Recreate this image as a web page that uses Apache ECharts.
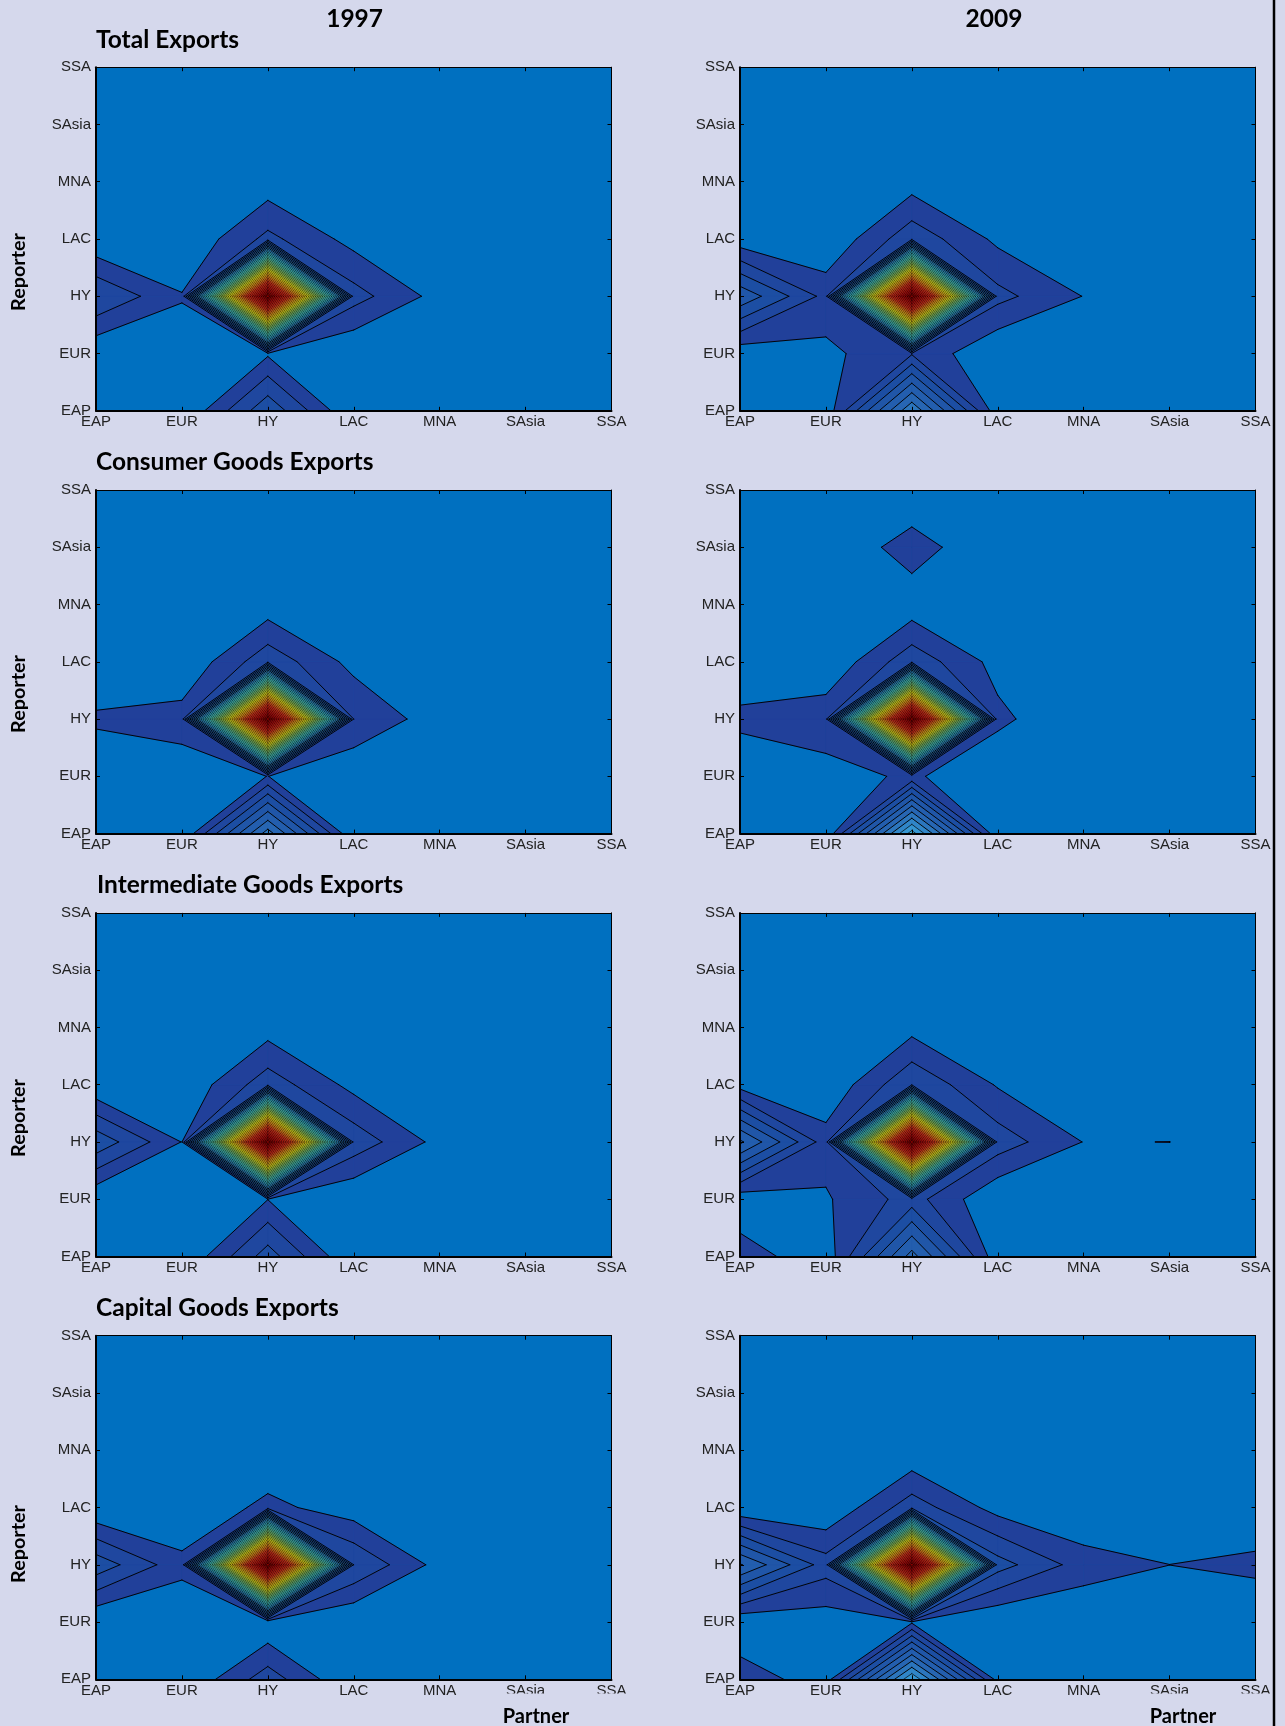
<!DOCTYPE html>
<html>
<head>
<meta charset="utf-8">
<style>html,body{margin:0;padding:0;background:#d5d8ec}#c{width:1285px;height:1726px}</style>
<script src="https://cdn.jsdelivr.net/npm/echarts@6/dist/echarts.min.js"></script>
</head>
<body>
<div id="c"></div>
<script>
// Axis categories: partner on x, reporter on y. Matrices: rows EAP..SSA (bottom to top), columns EAP..SSA.
var categories = ['EAP','EUR','HY','LAC','MNA','SAsia','SSA'];
var years = ['1997','2009'];
var sections = ['Total Exports','Consumer Goods Exports','Intermediate Goods Exports','Capital Goods Exports'];

var total1997 = [
 [0,0,3.77,0,0,0,0],
 [.1,.47,.85,.01,0,0,0],
 [3.0,1.07,40,2.42,.62,0,0],
 [.1,.03,2.29,.62,0,0,0],
 [0,0,.38,0,0,0,0],
 [0,0,0,0,0,0,0],
 [0,0,0,0,0,0,0]];
var total2009 = [
 [0,.3,7.9,.3,0,0,0],
 [.3,.73,1.88,.04,0,0,0],
 [4.77,1.66,40,2.32,.97,0,0],
 [.34,.07,2.7,.76,0,0,0],
 [0,0,.5,0,0,0,0],
 [0,0,0,0,0,0,0],
 [0,0,0,0,0,0,0]];
var consumer1997 = [
 [0,0,7.5,0,0,0,0],
 [.14,.43,1.01,0,0,0,0],
 [1.18,1.45,40,2,.39,0,0],
 [0,.08,2.7,.65,0,0,0],
 [0,0,.39,0,0,0,0],
 [0,0,0,0,0,0,0],
 [0,0,0,0,0,0,0]];
var consumer2009 = [
 [0,.1,10.5,.1,0,0,0],
 [0,.54,1.19,0,0,0,0],
 [1.32,1.69,40,1.27,0,0,0],
 [0,.08,2.7,.62,0,0,0],
 [0,0,.35,0,0,0,0],
 [0,0,1.55,0,0,0,0],
 [0,0,0,0,0,0,0]];
var intermediate1997 = [
 [0,0,3.5,0,0,0,0],
 [.09,.4,.98,.03,0,0,0],
 [3.73,.97,40,2.66,.66,0,0],
 [.09,.14,2.6,.66,0,0,0],
 [0,0,.52,0,0,0,0],
 [0,0,0,0,0,0,0],
 [0,0,0,0,0,0,0]];
var intermediate2009 = [
 [1.5,.33,6.43,.3,0,0,0],
 [.28,.88,2.43,.05,0,0,0],
 [6.2,1.45,40,2.56,.97,1.006,0],
 [.57,.12,2.9,.9,0,0,0],
 [0,0,.63,0,0,0,0],
 [0,0,0,0,0,0,0],
 [0,0,0,0,0,0,0]];
var capital1997 = [
 [0,0,2.55,0,0,0,0],
 [0,.12,.09,0,0,0,0],
 [3.65,1.32,40,2.98,.62,0,0],
 [.03,0,1.32,.4,0,0,0],
 [0,0,0,0,0,0,0],
 [0,0,0,0,0,0,0],
 [0,0,0,0,0,0,0]];
var capital2009 = [
 [1.57,.45,9.9,.6,0,0,0],
 [.14,.45,.82,0,.1,0,0],
 [6.1,2.48,40,3.44,1.52,1.005,1.31],
 [.05,.05,2.57,.58,0,0,0],
 [0,0,.12,0,0,0,0],
 [0,0,0,0,0,0,0],
 [0,0,0,0,0,0,0]];

var panels = [total1997,total2009,consumer1997,consumer2009,intermediate1997,intermediate2009,capital1997,capital2009];
var levelCount = 40;
var rampLevels = [0,1,3,6,9,11,14,18,22,26,30,35,40];
var rampColors = ['#0070c0','#21409a','#1c4ea3','#2766b3','#3596d2','#3dc4dc','#50c8b0','#8cc860','#ecea20','#f4a020','#e83820','#c01010','#7a0000'];

function hex(c){return [1,3,5].map(function(i){return parseInt(c.substr(i,2),16)})}
function bandColor(k){
  for(var i=0;i<rampLevels.length-1;i++){
    if(k<=rampLevels[i+1]){
      var t=(k-rampLevels[i])/(rampLevels[i+1]-rampLevels[i]),a=hex(rampColors[i]),b=hex(rampColors[i+1]);
      return 'rgb('+a.map(function(v,j){return Math.round(v+(b[j]-v)*t)}).join(',')+')';
    }
  }
  return rampColors[rampColors.length-1];
}
// One grid cell at level L: filled polygons and contour segments, in data coordinates.
function cellContour(z,c,r,L){
  var P=[[c,r],[c+1,r],[c+1,r+1],[c,r+1]];
  var V=[z[r][c],z[r][c+1],z[r+1][c+1],z[r+1][c]];
  var walk=[],X=[];
  for(var i=0;i<4;i++){
    var j=(i+1)%4,a=V[i]>=L,b=V[j]>=L;
    if(a)walk.push({p:P[i]});
    if(a!==b){
      var t=(L-V[i])/(V[j]-V[i]);
      var q=[P[i][0]+(P[j][0]-P[i][0])*t,P[i][1]+(P[j][1]-P[i][1])*t];
      walk.push({p:q,x:1,up:a});X.push(q);
    }
  }
  var polys=[],segs=[];
  if(X.length===2){polys.push(walk.map(function(w){return w.p}));segs.push([X[0],X[1]]);}
  else if(X.length===4){
    var center=(V[0]+V[1]+V[2]+V[3])/4;
    if(center>=L){
      polys.push(walk.map(function(w){return w.p}));
      for(var n=0;n<walk.length;n++){var w=walk[n],w2=walk[(n+1)%walk.length];if(w.x&&w2.x)segs.push([w.p,w2.p]);}
    }else{
      var m=walk.length;
      for(var n2=0;n2<m;n2++){
        if(!walk[n2].x){
          var pr=walk[(n2-1+m)%m],ne=walk[(n2+1)%m];
          polys.push([pr.p,walk[n2].p,ne.p]);segs.push([pr.p,ne.p]);
        }
      }
    }
  }else if(V[0]>=L){polys.push(P);}
  return {polys:polys,segs:segs};
}
function makeRender(z){
  return function(params,api){
    var L=api.value(2),children=[],lines=[];
    var color=bandColor(L);
    var lw=L<=8?.95:(L<=12?.7:.6);
    for(var r=0;r<6;r++)for(var c=0;c<6;c++){
      var res=cellContour(z,c,r,L);
      res.polys.forEach(function(poly){
        children.push({type:'polygon',shape:{points:poly.map(function(p){return api.coord(p)})},
          style:{fill:color,stroke:color,lineWidth:.6}});
      });
      res.segs.forEach(function(s){
        lines.push({type:'line',shape:{x1:api.coord(s[0])[0],y1:api.coord(s[0])[1],x2:api.coord(s[1])[0],y2:api.coord(s[1])[1]},
          style:{stroke:'#000',lineWidth:lw,lineCap:'round'}});
      });
    }
    return {type:'group',children:children.concat(lines)};
  };
}

var levels=[];for(var k=1;k<levelCount;k++)levels.push([0,0,k]);
var gridLeft=[96,740],gridTop=[67.2,490,912.9,1335.7],gridW=515.5,gridH=343.6;
var grids=[],xAxes=[],yAxes=[],series=[],graphic=[];
var labelStyle={color:'#222',fontFamily:'Liberation Sans',fontSize:15};
function axisBase(type,idx,pos,show){
  return {type:'value',gridIndex:idx,min:0,max:6,interval:1,position:pos,z:5,
    axisLine:{show:true,onZero:false,lineStyle:{color:'#000',width:(pos==='left'||pos==='bottom')?2:1}},
    axisTick:{show:true,inside:true,length:4,lineStyle:{color:'#000',width:1}},
    splitLine:{show:false},
    axisLabel:show?Object.assign({show:true,margin:type==='x'?4:5,showMinLabel:true,showMaxLabel:true,hideOverlap:false,
      formatter:function(v){return categories[v]}},labelStyle):{show:false}};
}
panels.forEach(function(z,i){
  var col=i%2,row=(i-col)/2;
  grids.push({show:true,backgroundColor:rampColors[0],borderWidth:0,left:gridLeft[col],top:gridTop[row],width:gridW,height:gridH,containLabel:false});
  xAxes.push(axisBase('x',i,'bottom',true));xAxes.push(axisBase('x',i,'top',false));
  yAxes.push(axisBase('y',i,'left',true));yAxes.push(axisBase('y',i,'right',false));
  series.push({type:'custom',coordinateSystem:'cartesian2d',xAxisIndex:i*2,yAxisIndex:i*2,data:levels,
    encode:{x:0,y:1},renderItem:makeRender(z),clip:true,silent:true,animation:false,progressive:0,z:2});
});
var boldFont='Lato';
function txt(t,x,y,size,align,rot){
  var e={type:'text',x:x,y:y,z:20,style:{text:t,fontFamily:boldFont,fontWeight:'bold',fontSize:size,fill:'#000',
    textAlign:align||'left',textVerticalAlign:'middle'}};
  if(rot)e.rotation=rot;
  return e;
}
graphic.push(txt(years[0],354.6,19,24.5,'center'));
graphic.push(txt(years[1],994,19,24.5,'center'));
var secX=[96,96,97,96],secY=[40,462,885,1308];
sections.forEach(function(s,i){graphic.push(txt(s,secX[i],secY[i],24.5,'left'));});
var repY=[272,694,1118,1544];
repY.forEach(function(y){graphic.push(txt('Reporter',19,y,19.8,'center',Math.PI/2));});
graphic.push(txt('Partner',536,1717,20,'center'));
graphic.push(txt('Partner',1183,1717,20,'center'));
// clipped bottom labels and right frame of the reference
graphic.push({type:'rect',z:10,shape:{x:490,y:1693.5,width:160,height:9},style:{fill:'#d5d8ec'}});
graphic.push({type:'rect',z:10,shape:{x:1135,y:1693.5,width:137,height:9},style:{fill:'#d5d8ec'}});
graphic.push({type:'line',z:10,shape:{x1:1274,y1:0,x2:1274,y2:1726},style:{stroke:'#000',lineWidth:2.5}});

var chart=echarts.init(document.getElementById('c'),null,{renderer:'canvas'});
chart.setOption({animation:false,backgroundColor:'#d5d8ec',grid:grids,xAxis:xAxes,yAxis:yAxes,series:series,graphic:graphic});
</script>
</body>
</html>
